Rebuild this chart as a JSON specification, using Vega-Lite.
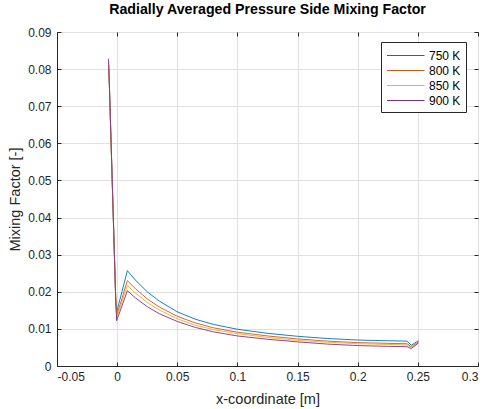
{
  "$schema": "https://vega.github.io/schema/vega-lite/v6.json",
  "autosize": "none",
  "width": 421,
  "height": 334,
  "padding": {"left": 57, "top": 32, "right": 11, "bottom": 43},
  "background": "white",
  "title": {
    "text": "Radially Averaged Pressure Side Mixing Factor",
    "font": "Liberation Sans",
    "fontSize": 14.2,
    "fontWeight": "bold",
    "color": "#000000",
    "offset": 9,
    "anchor": "middle"
  },
  "config": {
    "view": {"stroke": "#262626", "strokeWidth": 1},
    "axis": {
      "labelFont": "Liberation Sans",
      "labelFontSize": 12,
      "labelColor": "#262626",
      "titleFont": "Liberation Sans",
      "titleFontSize": 14.5,
      "titleFontWeight": "normal",
      "titleColor": "#262626",
      "domainColor": "#262626",
      "tickColor": "#262626",
      "gridColor": "#e0e0e0",
      "gridWidth": 1
    }
  },
  "data": {
    "values": [
      {"x": -0.0068, "mf": 0.0800, "T": "750 K"},
      {"x": -0.006, "mf": 0.0705, "T": "750 K"},
      {"x": -0.005, "mf": 0.0595, "T": "750 K"},
      {"x": -0.004, "mf": 0.0487, "T": "750 K"},
      {"x": -0.003, "mf": 0.0378, "T": "750 K"},
      {"x": -0.002, "mf": 0.0268, "T": "750 K"},
      {"x": -0.0012, "mf": 0.0185, "T": "750 K"},
      {"x": -0.0004, "mf": 0.0145, "T": "750 K"},
      {"x": 0.0085, "mf": 0.0257, "T": "750 K"},
      {"x": 0.015, "mf": 0.0232, "T": "750 K"},
      {"x": 0.025, "mf": 0.0200, "T": "750 K"},
      {"x": 0.035, "mf": 0.0175, "T": "750 K"},
      {"x": 0.05, "mf": 0.0146, "T": "750 K"},
      {"x": 0.065, "mf": 0.0126, "T": "750 K"},
      {"x": 0.08, "mf": 0.0112, "T": "750 K"},
      {"x": 0.1, "mf": 0.0099, "T": "750 K"},
      {"x": 0.125, "mf": 0.0088, "T": "750 K"},
      {"x": 0.15, "mf": 0.0080, "T": "750 K"},
      {"x": 0.175, "mf": 0.0074, "T": "750 K"},
      {"x": 0.2, "mf": 0.0070, "T": "750 K"},
      {"x": 0.225, "mf": 0.0068, "T": "750 K"},
      {"x": 0.241, "mf": 0.0067, "T": "750 K"},
      {"x": 0.2445, "mf": 0.0056, "T": "750 K"},
      {"x": 0.2505, "mf": 0.0068, "T": "750 K"},

      {"x": -0.007, "mf": 0.0812, "T": "800 K"},
      {"x": -0.006, "mf": 0.0707, "T": "800 K"},
      {"x": -0.005, "mf": 0.0597, "T": "800 K"},
      {"x": -0.004, "mf": 0.0488, "T": "800 K"},
      {"x": -0.003, "mf": 0.0379, "T": "800 K"},
      {"x": -0.002, "mf": 0.0270, "T": "800 K"},
      {"x": -0.0012, "mf": 0.0183, "T": "800 K"},
      {"x": -0.0004, "mf": 0.0135, "T": "800 K"},
      {"x": 0.0085, "mf": 0.0230, "T": "800 K"},
      {"x": 0.015, "mf": 0.0209, "T": "800 K"},
      {"x": 0.025, "mf": 0.0181, "T": "800 K"},
      {"x": 0.035, "mf": 0.0159, "T": "800 K"},
      {"x": 0.05, "mf": 0.0134, "T": "800 K"},
      {"x": 0.065, "mf": 0.0116, "T": "800 K"},
      {"x": 0.08, "mf": 0.0103, "T": "800 K"},
      {"x": 0.1, "mf": 0.0091, "T": "800 K"},
      {"x": 0.125, "mf": 0.0081, "T": "800 K"},
      {"x": 0.15, "mf": 0.0073, "T": "800 K"},
      {"x": 0.175, "mf": 0.0067, "T": "800 K"},
      {"x": 0.2, "mf": 0.0063, "T": "800 K"},
      {"x": 0.225, "mf": 0.0061, "T": "800 K"},
      {"x": 0.241, "mf": 0.0060, "T": "800 K"},
      {"x": 0.2445, "mf": 0.0052, "T": "800 K"},
      {"x": 0.2505, "mf": 0.0065, "T": "800 K"},

      {"x": -0.007, "mf": 0.0820, "T": "850 K"},
      {"x": -0.006, "mf": 0.0708, "T": "850 K"},
      {"x": -0.005, "mf": 0.0598, "T": "850 K"},
      {"x": -0.004, "mf": 0.0489, "T": "850 K"},
      {"x": -0.003, "mf": 0.0380, "T": "850 K"},
      {"x": -0.002, "mf": 0.0271, "T": "850 K"},
      {"x": -0.0012, "mf": 0.0181, "T": "850 K"},
      {"x": -0.0004, "mf": 0.0130, "T": "850 K"},
      {"x": 0.0085, "mf": 0.0217, "T": "850 K"},
      {"x": 0.015, "mf": 0.0197, "T": "850 K"},
      {"x": 0.025, "mf": 0.0171, "T": "850 K"},
      {"x": 0.035, "mf": 0.0151, "T": "850 K"},
      {"x": 0.05, "mf": 0.0127, "T": "850 K"},
      {"x": 0.065, "mf": 0.0110, "T": "850 K"},
      {"x": 0.08, "mf": 0.0098, "T": "850 K"},
      {"x": 0.1, "mf": 0.0087, "T": "850 K"},
      {"x": 0.125, "mf": 0.0077, "T": "850 K"},
      {"x": 0.15, "mf": 0.0069, "T": "850 K"},
      {"x": 0.175, "mf": 0.0064, "T": "850 K"},
      {"x": 0.2, "mf": 0.0060, "T": "850 K"},
      {"x": 0.225, "mf": 0.0058, "T": "850 K"},
      {"x": 0.241, "mf": 0.0057, "T": "850 K"},
      {"x": 0.2445, "mf": 0.0050, "T": "850 K"},
      {"x": 0.2505, "mf": 0.0063, "T": "850 K"},

      {"x": -0.0072, "mf": 0.0828, "T": "900 K"},
      {"x": -0.006, "mf": 0.0710, "T": "900 K"},
      {"x": -0.005, "mf": 0.0600, "T": "900 K"},
      {"x": -0.004, "mf": 0.0490, "T": "900 K"},
      {"x": -0.003, "mf": 0.0380, "T": "900 K"},
      {"x": -0.002, "mf": 0.0270, "T": "900 K"},
      {"x": -0.0012, "mf": 0.0180, "T": "900 K"},
      {"x": -0.0004, "mf": 0.0122, "T": "900 K"},
      {"x": 0.0085, "mf": 0.0203, "T": "900 K"},
      {"x": 0.015, "mf": 0.0184, "T": "900 K"},
      {"x": 0.025, "mf": 0.0160, "T": "900 K"},
      {"x": 0.035, "mf": 0.0141, "T": "900 K"},
      {"x": 0.05, "mf": 0.0120, "T": "900 K"},
      {"x": 0.065, "mf": 0.0104, "T": "900 K"},
      {"x": 0.08, "mf": 0.0092, "T": "900 K"},
      {"x": 0.1, "mf": 0.0081, "T": "900 K"},
      {"x": 0.125, "mf": 0.0072, "T": "900 K"},
      {"x": 0.15, "mf": 0.0065, "T": "900 K"},
      {"x": 0.175, "mf": 0.0059, "T": "900 K"},
      {"x": 0.2, "mf": 0.0055, "T": "900 K"},
      {"x": 0.225, "mf": 0.0053, "T": "900 K"},
      {"x": 0.241, "mf": 0.0052, "T": "900 K"},
      {"x": 0.2445, "mf": 0.0047, "T": "900 K"},
      {"x": 0.2505, "mf": 0.0062, "T": "900 K"}
    ]
  },
  "layer": [
    {
      "mark": {"type": "line", "strokeWidth": 0.9, "clip": true},
      "encoding": {
        "x": {
          "field": "x", "type": "quantitative",
          "scale": {"domain": [-0.05, 0.3], "nice": false, "zero": false},
          "axis": {
            "title": "x-coordinate [m]",
            "values": [-0.05, 0, 0.05, 0.1, 0.15, 0.2, 0.25, 0.3],
            "format": "~g",
            "labelExpr": "replace(datum.label, '−', '-')",
            "tickSize": -4,
            "labelPadding": 9,
            "titlePadding": 10,
            "grid": true
          }
        },
        "y": {
          "field": "mf", "type": "quantitative",
          "scale": {"domain": [0, 0.09], "nice": false},
          "axis": {
            "title": "Mixing Factor [-]",
            "values": [0, 0.01, 0.02, 0.03, 0.04, 0.05, 0.06, 0.07, 0.08, 0.09],
            "format": "~g",
            "tickSize": -4,
            "labelPadding": 10,
            "titlePadding": 5,
            "grid": true
          }
        },
        "color": {
          "field": "T", "type": "nominal",
          "scale": {"domain": ["750 K", "800 K", "850 K", "900 K"], "range": ["#0072BD", "#D95319", "#EDB120", "#7E2F8E"]},
          "legend": {
            "title": null,
            "orient": "none",
            "legendX": 324,
            "legendY": 10,
            "fillColor": "white",
            "strokeColor": "#262626",
            "padding": 5,
            "symbolType": "M-1,0H4",
            "symbolSize": 225,
            "symbolStrokeWidth": 1.2,
            "symbolFillColor": "transparent",
            "labelOffset": 26,
            "rowPadding": 0,
            "labelFont": "Liberation Sans",
            "labelFontSize": 12,
            "labelColor": "#000000"
          }
        }
      }
    },
    {
      "mark": {"type": "point", "opacity": 0},
      "encoding": {
        "x": {
          "field": "x", "type": "quantitative",
          "axis": {"orient": "top", "title": null, "labels": false, "grid": false, "domain": false, "tickSize": -4, "values": [-0.05, 0, 0.05, 0.1, 0.15, 0.2, 0.25, 0.3]}
        },
        "y": {
          "field": "mf", "type": "quantitative",
          "axis": {"orient": "right", "title": null, "labels": false, "grid": false, "domain": false, "tickSize": -4, "values": [0, 0.01, 0.02, 0.03, 0.04, 0.05, 0.06, 0.07, 0.08, 0.09]}
        }
      }
    }
  ],
  "resolve": {"axis": {"x": "independent", "y": "independent"}}
}
